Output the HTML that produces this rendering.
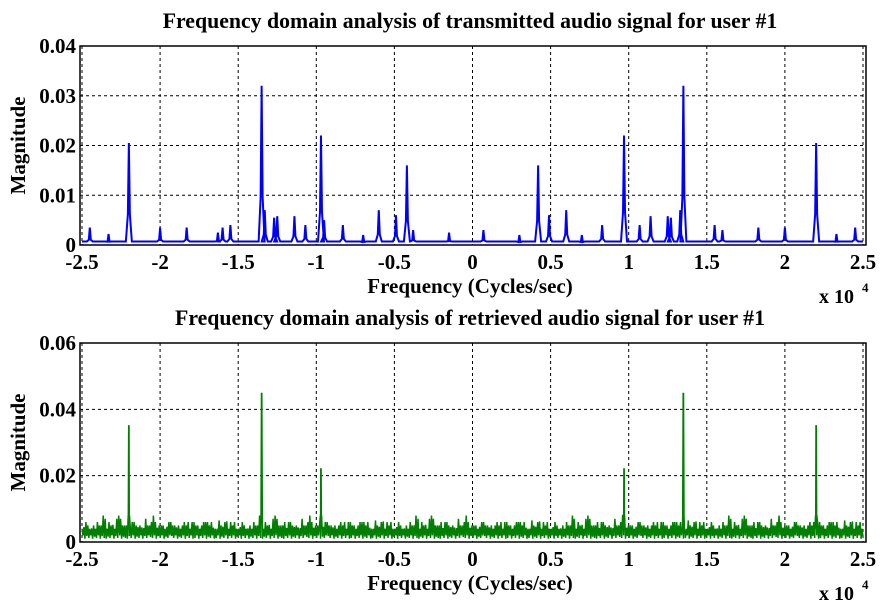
<!DOCTYPE html>
<html><head><meta charset="utf-8"><style>
body{margin:0;background:#fff;}
svg{display:block;font-family:"Liberation Serif",serif;font-weight:bold;}
</style></head><body>
<svg id="c" width="889" height="605"></svg>
<script>
const xTicks=[-2.5,-2,-1.5,-1,-0.5,0,0.5,1,1.5,2,2.5];
const xTickLabels=["-2.5","-2","-1.5","-1","-0.5","0","0.5","1","1.5","2","2.5"];
const topYTicks=[0,0.01,0.02,0.03,0.04];
const topYLabels=["0","0.01","0.02","0.03","0.04"];
const botYTicks=[0,0.02,0.04,0.06];
const botYLabels=["0","0.02","0.04","0.06"];
const topPeakFreqs=[-2.45,-2.33,-2.2,-2.0,-1.83,-1.63,-1.6,-1.55,-1.35,-1.33,-1.27,-1.25,-1.14,-1.07,-0.97,-0.95,-0.83,-0.7,-0.6,-0.49,-0.42,-0.38,-0.15,0.07,0.3,0.42,0.49,0.6,0.7,0.83,0.97,1.07,1.14,1.25,1.27,1.33,1.35,1.55,1.6,1.83,2.0,2.2,2.33,2.45];
const topPeakMags=[0.0035,0.0022,0.0205,0.0035,0.0035,0.0025,0.0035,0.004,0.032,0.007,0.0055,0.0058,0.0058,0.004,0.022,0.005,0.004,0.002,0.007,0.006,0.016,0.003,0.0025,0.003,0.002,0.016,0.006,0.007,0.002,0.004,0.022,0.004,0.0058,0.0058,0.0055,0.007,0.032,0.004,0.003,0.0035,0.0035,0.0205,0.0022,0.0035];
const topBaseline=0.0007;
const botPeakFreqs=[-2.2,-1.35,-0.97,0.97,1.35,2.2];
const botPeakMags=[0.035,0.045,0.022,0.022,0.045,0.035];
const botNoise=[0.004,0.0012,0.006,0.0018,0.005,0.001,0.007,0.002,0.004,0.0012,0.005,0.0015,0.006,0.001,0.0045,0.002,0.005,0.0012,0.006,0.0018,0.004,0.001,0.0065,0.002,0.005,0.0012,0.0042,0.0016,0.006,0.001,0.005,0.002,0.008,0.0012,0.006,0.0018,0.005,0.001,0.0044,0.002,0.006,0.0012,0.005,0.0016,0.004,0.001,0.006,0.002,0.005,0.0012,0.0046,0.0018,0.005,0.001,0.006,0.002,0.004,0.0012,0.005,0.0016,0.0043,0.001,0.0052,0.002,0.006,0.0012,0.004,0.0018,0.005,0.001,0.0041,0.002,0.006,0.0012,0.005,0.0016,0.004,0.001,0.0062,0.002,0.005,0.0012,0.0045,0.0018,0.005,0.001,0.006,0.002,0.005,0.0012,0.007,0.0016,0.004,0.001,0.006,0.002,0.005,0.0012,0.004,0.0018,0.006,0.001,0.005,0.002,0.008,0.0012,0.006,0.0016,0.005,0.001,0.0044,0.002,0.006,0.0012,0.005,0.0018,0.004,0.001,0.007,0.002,0.005,0.0012,0.006,0.0016,0.0042,0.001,0.005,0.002,0.006,0.0012,0.0046,0.0018,0.005,0.001,0.006,0.002,0.004,0.0012,0.007,0.0016,0.005,0.001,0.0043,0.002,0.006,0.0012,0.005,0.0018,0.004,0.001,0.006,0.002,0.005,0.0012,0.008,0.0016,0.004,0.001,0.006,0.002,0.005,0.0012];

const svg=document.getElementById('c');
const NS='http://www.w3.org/2000/svg';
function mk(tag,attrs,parent){const e=document.createElementNS(NS,tag);for(const k in attrs)e.setAttribute(k,attrs[k]);(parent||svg).appendChild(e);return e;}
const X0=80,X1=866;
function xs(v){return 82+(v+2.5)*156.2;}

function panel(p){
  const g=mk('g',{});
  
  
  const ys=v=>p.yb-(v/p.ymax)*(p.yb-p.yt);
  xTicks.forEach(t=>{const l=mk('line',{x1:xs(t),x2:xs(t),y1:p.yt,y2:p.yb,stroke:'#000','stroke-width':1,'stroke-dasharray':'3,3'},g);
    });
  p.yticks.forEach(t=>{const l=mk('line',{x1:X0,x2:X1,y1:ys(t),y2:ys(t),stroke:'#000','stroke-width':1,'stroke-dasharray':'3,3'},g);
    });
  const path=mk('path',{d:p.d(ys),fill:'none',stroke:p.color,'stroke-width':p.sw},g);
  
  const r=mk('rect',{x:X0,y:p.yt,width:X1-X0,height:p.yb-p.yt,fill:'none',stroke:'#000','stroke-width':1.5},g);
  
  xTicks.forEach((t,i)=>{const tx=mk('text',{x:xs(t),y:p.yb+24,'text-anchor':'middle','font-size':21},g);tx.textContent=xTickLabels[i];
    });
  p.yticks.forEach((t,i)=>{const tx=mk('text',{x:X0-4,y:ys(t)+7,'text-anchor':'end','font-size':21},g);tx.textContent=p.ylabels[i];
    });
  const tt=mk('text',{x:470,y:p.yt-18,'text-anchor':'middle','font-size':21.8},g);tt.textContent=p.title;
  
  const xl=mk('text',{x:470,y:p.yb+48,'text-anchor':'middle','font-size':21},g);xl.textContent='Frequency (Cycles/sec)';
  
  const yl=mk('text',{x:0,y:0,'text-anchor':'middle','font-size':21,transform:`translate(25,${(p.yt+p.yb)/2}) rotate(-90)`},g);yl.textContent='Magnitude';
  
  const ex=mk('text',{x:819,y:p.yb+58,'font-size':20},g);ex.textContent='x 10';
  
  const ex2=mk('text',{x:862,y:p.yb+47,'font-size':13},g);ex2.textContent='4';
  
}

panel({name:'top-panel',series:'transmitted-spectrum-line',color:'#0000ff',sw:2,yt:46,yb:245,ymax:0.04,yticks:topYTicks,ylabels:topYLabels,
 title:'Frequency domain analysis of transmitted audio signal for user #1',
 d:ys=>{let s=`M${xs(-2.5)},${ys(topBaseline)}`;
   topPeakFreqs.forEach((f,i)=>{const x=xs(f);s+=`L${x-3},${ys(topBaseline)}L${x-1},${ys(topPeakMags[i]*0.3)}L${x},${ys(topPeakMags[i])}L${x+1},${ys(topPeakMags[i]*0.3)}L${x+3},${ys(topBaseline)}`;});
   return s+`L${xs(2.5)},${ys(topBaseline)}`;}});

panel({name:'bottom-panel',series:'retrieved-spectrum-line',color:'#008000',sw:1.5,yt:343,yb:542,ymax:0.06,yticks:botYTicks,ylabels:botYLabels,
 title:'Frequency domain analysis of retrieved audio signal for user #1',
 d:ys=>{const n=botNoise.length;const m=n*5;let pts=[];
   for(let i=0;i<m;i++)pts.push([-2.5+5*i/(m-1),botNoise[(i*7)%n]]);
   botPeakFreqs.forEach((f,i)=>{pts.push([f-0.004,0.008]);pts.push([f-0.001,botPeakMags[i]]);pts.push([f+0.001,botPeakMags[i]]);pts.push([f+0.004,0.008]);});
   pts.sort((a,b)=>a[0]-b[0]);
   let s='';pts.forEach((p,i)=>{s+=(i?'L':'M')+xs(p[0]).toFixed(1)+','+ys(p[1]).toFixed(1);});
   return s;}});
</script>
</body></html>
